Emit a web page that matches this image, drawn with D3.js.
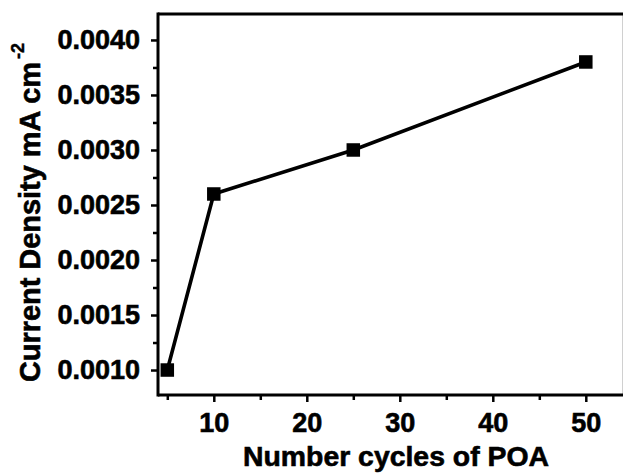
<!DOCTYPE html>
<html>
<head>
<meta charset="utf-8">
<script src="https://cdn.jsdelivr.net/npm/d3@7"></script>
<style>
  html, body { margin: 0; padding: 0; background: #fff; }
  svg { display: block; }
  text { font-family: Arial, "Liberation Sans", sans-serif; font-weight: bold; fill: #000; }
</style>
</head>
<body>
<svg id="chart" width="624" height="474"></svg>
<script>
// Current density vs. number of POA deposition cycles
const cycles = [5, 10, 25, 50];
const density = [0.0010, 0.0026, 0.0030, 0.0038];

const xTicks = [10, 20, 30, 40, 50];
const xMinorTicks = [5, 15, 25, 35, 45];
const yTicks = [0.0010, 0.0015, 0.0020, 0.0025, 0.0030, 0.0035, 0.0040];
const yMinorTicks = [0.00125, 0.00175, 0.00225, 0.00275, 0.00325, 0.00375];

const xTitle = "Number cycles of POA";
const yTitle = "Current Density mA cm";
const yTitleSup = "-2";

const svg = d3.select("#chart");
const plotL = 158, plotR = 623, plotT = 14, plotB = 395;

const x = d3.scaleLinear().domain([4, 54]).range([plotL, plotR]);
const y = d3.scaleLinear().domain([0.000773, 0.004236]).range([plotB, plotT]);

const fontFam = "Arial, 'Liberation Sans', sans-serif";
// heavy bold look for all labels
const heavy = sel => sel
  .style("font-family", fontFam).style("font-weight", "bold")
  .attr("fill", "#000").attr("stroke", "#000").attr("stroke-width", 0.6);

// minor ticks
svg.append("g")
  .attr("transform", `translate(0,${plotB})`)
  .call(d3.axisBottom(x).tickValues(xMinorTicks).tickSize(5).tickFormat(""))
  .call(g => g.select(".domain").remove())
  .call(g => g.selectAll("line").attr("stroke", "#000").attr("stroke-width", 2.5));

svg.append("g")
  .attr("transform", `translate(${plotL},0)`)
  .call(d3.axisLeft(y).tickValues(yMinorTicks).tickSize(5).tickFormat(""))
  .call(g => g.select(".domain").remove())
  .call(g => g.selectAll("line").attr("stroke", "#000").attr("stroke-width", 2.5));

// major ticks with labels
svg.append("g")
  .attr("transform", `translate(0,${plotB})`)
  .call(d3.axisBottom(x).tickValues(xTicks).tickSize(7).tickPadding(11).tickFormat(d3.format("d")))
  .call(g => g.select(".domain").remove())
  .call(g => g.selectAll("line").attr("stroke", "#000").attr("stroke-width", 2.5))
  .call(g => g.selectAll("text").attr("font-size", 27).call(heavy));

svg.append("g")
  .attr("transform", `translate(${plotL},0)`)
  .call(d3.axisLeft(y).tickValues(yTicks).tickSize(7).tickPadding(11).tickFormat(d3.format(".4f")))
  .call(g => g.select(".domain").remove())
  .call(g => g.selectAll("line").attr("stroke", "#000").attr("stroke-width", 2.5))
  .call(g => g.selectAll("text").attr("font-size", 27).call(heavy));

// frame
svg.append("line").attr("x1", plotR - 0.5).attr("x2", plotR - 0.5).attr("y1", plotT).attr("y2", plotB)
  .attr("stroke", "#d0d0d0").attr("stroke-width", 1);
svg.append("line").attr("x1", plotL).attr("x2", plotR).attr("y1", plotT).attr("y2", plotT)
  .attr("stroke", "#000").attr("stroke-width", 3.2);
svg.append("line").attr("x1", plotL).attr("x2", plotR).attr("y1", plotB).attr("y2", plotB)
  .attr("stroke", "#000").attr("stroke-width", 3);
svg.append("line").attr("x1", plotL).attr("x2", plotL).attr("y1", plotT - 1.6).attr("y2", plotB + 1.5)
  .attr("stroke", "#000").attr("stroke-width", 3);

// series line and square markers
const pts = cycles.map((c, i) => [c, density[i]]);
svg.append("path")
  .datum(pts)
  .attr("fill", "none")
  .attr("stroke", "#000")
  .attr("stroke-width", 3.6)
  .attr("d", d3.line().x(d => x(d[0])).y(d => y(d[1])));

const ms = 13.5;
svg.append("g").selectAll("rect")
  .data(pts)
  .join("rect")
  .attr("x", d => x(d[0]) - ms / 2)
  .attr("y", d => y(d[1]) - ms / 2)
  .attr("width", ms)
  .attr("height", ms)
  .attr("fill", "#000");

// axis titles
svg.append("text")
  .attr("x", 243)
  .attr("y", 466)
  .attr("text-anchor", "start")
  .attr("font-size", 28.5)
  .attr("textLength", 306)
  .attr("lengthAdjust", "spacingAndGlyphs")
  .call(heavy)
  .text(xTitle);

const yt = svg.append("text")
  .attr("transform", "translate(40,382) rotate(-90)")
  .attr("text-anchor", "start")
  .attr("font-size", 29)
  .call(heavy);
yt.append("tspan")
  .attr("textLength", 320)
  .attr("lengthAdjust", "spacingAndGlyphs")
  .text(yTitle);
yt.append("tspan").attr("font-size", 18).attr("dy", -16).attr("dx", 3).attr("stroke-width", 0.4).text(yTitleSup);
</script>
</body>
</html>
